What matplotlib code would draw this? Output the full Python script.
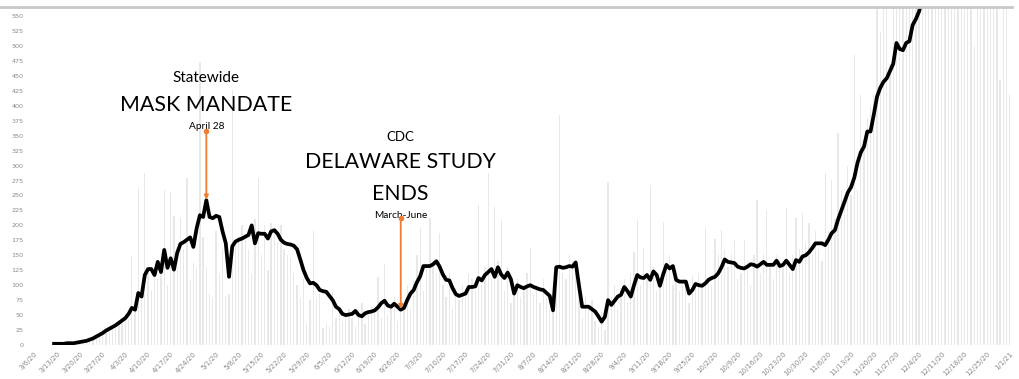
import numpy as np
import pandas as pd
import matplotlib
matplotlib.use("Agg")
from matplotlib import pyplot as plt

# category axis: one slot per day, 3/6/20 .. 1/1/21
dates = pd.date_range("2020-03-06", "2021-01-01", freq="D")
first_day = 6  # data starts 3/12/20

# daily new cases (grey bars), from 3/12/20
daily_cases = [
    1, 2, 1, 3, 2, 4, 3,
    5, 4, 7, 6, 10, 12, 15,
    18, 22, 25, 30, 28, 35, 40,
    45, 52, 42, 148, 60, 262, 75,
    288, 120, 90, 130, 110, 140, 259,
    100, 256, 215, 130, 212, 160, 279,
    109, 137, 129, 473, 180, 130, 85,
    80, 190, 120, 160, 82, 85, 426,
    170, 180, 200, 175, 160, 120, 210,
    279, 150, 200, 125, 204, 190, 170,
    200, 160, 150, 145, 120, 100, 80,
    110, 35, 75, 190, 80, 85, 28,
    35, 30, 90, 45, 55, 40, 48,
    60, 45, 30, 55, 70, 35, 50,
    65, 60, 114, 45, 136, 50, 65,
    80, 40, 55, 70, 100, 60, 110,
    150, 195, 90, 130, 212, 140, 120,
    187, 100, 80, 120, 60, 95, 75,
    100, 80, 120, 110, 90, 234, 100,
    130, 288, 110, 231, 140, 209, 90,
    130, 70, 95, 110, 80, 100, 120,
    162, 85, 100, 70, 110, 80, 60,
    75, 100, 385, 120, 110, 150, 140,
    130, 90, 45, 80, 60, 75, 40,
    30, 55, 25, 273, 80, 100, 60,
    95, 110, 70, 120, 156, 211, 100,
    162, 120, 268, 130, 90, 110, 206,
    140, 150, 100, 120, 90, 110, 105,
    70, 115, 100, 120, 95, 195, 110,
    100, 178, 150, 192, 160, 130, 150,
    176, 110, 120, 176, 140, 100, 150,
    242, 120, 150, 226, 130, 110, 150,
    140, 130, 229, 120, 150, 212, 160,
    220, 170, 204, 150, 190, 160, 140,
    288, 190, 276, 210, 354, 260, 230,
    300, 250, 485, 260, 418, 330, 380,
    400, 420, 610, 524, 640, 620, 470,
    650, 700, 620, 680, 720, 660, 700,
    740, 690, 760, 720, 800, 780, 700,
    820, 760, 690, 840, 780, 720, 860,
    800, 750, 880, 820, 499, 900, 840,
    780, 870, 920, 860, 760, 443, 900,
    820, 418,
]

# 7-day average (black line), from 3/12/20
avg_cases = [
    2, 2, 2, 2, 3, 3, 3,
    4, 5, 6, 7, 9, 11, 14,
    17, 20, 24, 27, 30, 33, 37,
    41, 45, 52, 62, 59, 87, 81,
    117, 127, 127, 117, 139, 122, 159,
    129, 145, 126, 154, 169, 172, 176,
    180, 164, 195, 217, 214, 242, 214,
    212, 216, 214, 190, 170, 114, 165,
    173, 176, 178, 181, 184, 200, 170,
    187, 186, 186, 178, 190, 192, 186,
    176, 171, 169, 168, 166, 160, 143,
    125, 112, 103, 104, 100, 92, 90,
    89, 82, 75, 64, 60, 52, 50,
    51, 52, 57, 50, 48, 53, 55,
    56, 58, 63, 70, 74, 66, 64,
    69, 64, 59, 62, 75, 86, 92,
    105, 115, 132, 132, 132, 135, 140,
    131, 118, 109, 108, 95, 85, 82,
    84, 86, 97, 97, 98, 112, 108,
    117, 122, 127, 114, 130, 118, 112,
    121, 110, 86, 100, 97, 95, 98,
    100, 97, 95, 93, 92, 87, 82,
    58, 130, 131, 129, 130, 132, 131,
    138, 100, 64, 64, 64, 60, 56,
    48, 39, 47, 75, 67, 74, 81,
    84, 97, 90, 81, 100, 117, 113,
    112, 117, 109, 123, 117, 99, 118,
    134, 128, 132, 109, 106, 106, 106,
    86, 92, 102, 100, 99, 103, 109,
    112, 114, 120, 130, 143, 139, 138,
    137, 131, 129, 128, 131, 135, 134,
    131, 135, 139, 134, 134, 134, 141,
    132, 134, 141, 134, 127, 142, 139,
    148, 150, 155, 162, 170, 170, 170,
    167, 176, 187, 192, 210, 225, 240,
    255, 264, 280, 305, 322, 332, 357,
    357, 385, 415, 430, 440, 446, 458,
    470, 505, 495, 493, 505, 508, 535,
    545, 558, 580, 600,
]

mask_day, mask_top, mask_tip = 53, 357, 243
cdc_day, cdc_top, cdc_tip = 113, 212, 60

orange = '#ED7D31'
ygrey = '#8a8a8a'

fig = plt.figure(figsize=(10.19, 3.79), dpi=100)
ax = fig.add_axes([0.0324, 0.0897, 0.9602, 0.8892])

xb = np.arange(first_day, first_day + len(daily_cases))
xl = np.arange(first_day, first_day + len(avg_cases))
ax.bar(xb, daily_cases, width=0.4, color='#e8e8e8', zorder=1)
ax.plot(xl, avg_cases, color='black', lw=2.7, zorder=3, solid_joinstyle='round')

ax.set_xlim(-0.5, len(dates) - 0.5)
ax.set_ylim(0, 563.5)

ticks = np.arange(0, len(dates), 7)
ax.set_xticks(ticks)
ax.set_xticklabels([f"{d.month}/{d.day}/{d.year % 100}" for d in dates[ticks]],
                   rotation=45, ha='right', rotation_mode='anchor',
                   fontsize=5, color=ygrey)
ax.set_yticks(np.arange(0, 551, 25))
ax.set_yticklabels([str(v) for v in range(0, 551, 25)], fontsize=4.6, color=ygrey)
ax.tick_params(axis='y', length=0, pad=7)
ax.tick_params(axis='x', length=0, pad=4)
for s in ax.spines.values():
    s.set_visible(False)

# annotation arrows
for day, top, tip in [(mask_day, mask_top, mask_tip), (cdc_day, cdc_top, cdc_tip)]:
    ax.annotate('', xy=(day, tip), xytext=(day, top), zorder=4,
                arrowprops=dict(arrowstyle='-|>', color=orange, lw=1.3,
                                mutation_scale=6, shrinkA=0, shrinkB=0))
    ax.plot(day, top, 'o', color=orange, ms=3, zorder=4)

fnt = 'Lato'
ax.text(mask_day, 446, 'Statewide', ha='center', va='center', fontsize=11, family=fnt)
ax.text(mask_day, 402, 'MASK MANDATE', ha='center', va='center', fontsize=15.4, family=fnt)
ax.text(mask_day, 366, 'April 28', ha='center', va='center', fontsize=7.3, family=fnt)
ax.text(cdc_day, 348, 'CDC', ha='center', va='center', fontsize=9.5, family=fnt)
ax.text(cdc_day, 306, 'DELAWARE STUDY', ha='center', va='center', fontsize=15.3, family=fnt)
ax.text(cdc_day, 253, 'ENDS', ha='center', va='center', fontsize=15.3, family=fnt)
ax.text(cdc_day, 216, 'March-June', ha='center', va='center', fontsize=7.3, family=fnt)

# frame line across the top
fig.add_artist(plt.Line2D([0, 1012 / 1019], [1 - 7 / 379, 1 - 7 / 379],
                          color='#c8c8c8', lw=2, transform=fig.transFigure))

fig.savefig('out.png', dpi=100)
